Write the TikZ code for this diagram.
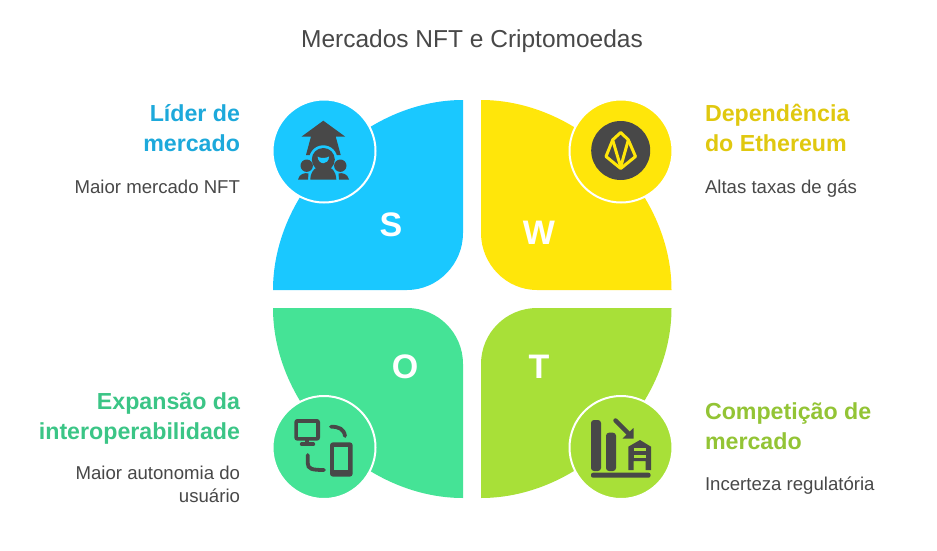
\documentclass[tikz,border=0pt]{standalone}
\usepackage{fontspec}
\setmainfont{Liberation Sans}
\usepackage{tikz}
\usetikzlibrary{positioning}

\definecolor{sblue}{HTML}{1AC8FF}
\definecolor{wyellow}{HTML}{FFE60A}
\definecolor{ogreen}{HTML}{45E396}
\definecolor{tlime}{HTML}{A8E038}
\definecolor{sbluetext}{HTML}{1DA9DB}
\definecolor{wyellowtext}{HTML}{E0C80F}
\definecolor{ogreentext}{HTML}{3BC586}
\definecolor{tlimetext}{HTML}{93C435}
\definecolor{icondark}{HTML}{484848}

\begin{document}
\begin{tikzpicture}[
            x = 1pt, % one unit is one pixel
            y = -1pt,
            inner sep = 0pt,
            outer sep = 0pt
        ]

        \tikzstyle{badge}=[
            circle,
            draw = white,
            line width = 2pt,
            minimum size = 103pt
        ]
        \tikzstyle{letter}=[
            text = white,
            font = \fontsize{34}{34}\selectfont\bfseries
        ]
        \tikzstyle{heading}=[
            font = \fontsize{23.2}{29.5}\selectfont\bfseries
        ]
        \tikzstyle{detail}=[
            text = icondark,
            font = \fontsize{18.6}{23}\selectfont
        ]

        \useasboundingbox (0,0) rectangle (937,551);
        \fill[white] (0,0) rectangle (937,551);

        \node[text = icondark, font = \fontsize{24.5}{30}\selectfont] (title) at (472,41) {Mercados NFT e Criptomoedas};

        % quadrants
        \fill[sblue] (463,100) .. controls (364,100) and (273,191) .. (273,290) -- (407,290)
            .. controls (438,290) and (463,264) .. (463,233) -- cycle;
        \fill[wyellow] (481,100) .. controls (580,100) and (671.5,191) .. (671.5,290) -- (537,290)
            .. controls (506,290) and (481,264) .. (481,233) -- cycle;
        \fill[ogreen] (463,498) .. controls (364,498) and (273,407) .. (273,308) -- (407,308)
            .. controls (438,308) and (463,333) .. (463,364) -- cycle;
        \fill[tlime] (481,498) .. controls (580,498) and (671.5,407) .. (671.5,308) -- (537,308)
            .. controls (506,308) and (481,333) .. (481,364) -- cycle;

        \node[letter] (s) at (391,225) {S};
        \node[letter] (w) at (539,233) {W};
        \node[letter] (o) at (405,367) {O};
        \node[letter] (t) at (539,367) {T};

        \node[badge, fill = sblue] (sbadge) at (324,151) {};
        \node[badge, fill = wyellow] (wbadge) at (621,151) {};
        \node[badge, fill = ogreen] (obadge) at (324,447.5) {};
        \node[badge, fill = tlime] (tbadge) at (621,447.5) {};

        % leader icon
        \fill[icondark] (323.3,120.7) -- (345,136.5) -- (335.7,136.5) -- (340.7,155) -- (306,155) -- (311,136.5) -- (301.7,136.5) -- cycle;
        \fill[sblue] (323.3,159.5) circle (14.2);
        \fill[icondark] (323.3,159.5) circle (11.5);
        \fill[sblue] (317.5,156.5) .. controls (320,158.5) and (326,158.5) .. (329.1,156.5) .. controls (328.5,165.5) and (318.5,165.5) .. (317.5,156.5) -- cycle;
        \fill[icondark] (310.3,179.5) .. controls (310.7,161) and (336,161) .. (336.3,179.5) -- cycle;
        \fill[icondark] (306.7,165.7) circle (6.2);
        \fill[icondark] (340.3,165.7) circle (6.2);
        \fill[icondark] (298,179.5) .. controls (299.5,173.5) and (305,172.5) .. (308.5,173.5) -- (308,179.5) -- cycle;
        \fill[icondark] (349,179.5) .. controls (347.5,173.5) and (342,172.5) .. (338.5,173.5) -- (339,179.5) -- cycle;

        % gem icon
        \fill[icondark] (620.7,150.5) circle (29.5);
        \draw[wyellow, line width = 3pt, line join = round]
            (620.7,132.5) -- (628.3,139.8) -- (635.5,156.5) -- (620.7,168.5) -- (606,156.5) -- (612.7,139.8) -- cycle;
        \draw[wyellow, line width = 3pt, line join = round]
            (612.7,140) -- (620.7,167) -- (628.3,140);

        % devices icon
        \fill[icondark, rounded corners = 3pt] (294.3,419) rectangle (320,440.7);
        \fill[ogreen] (298.3,423.3) rectangle (315.7,436.7);
        \draw[icondark, line width = 3.5pt] (307,440) -- (307,444.3);
        \draw[icondark, line width = 3.8pt, line cap = round] (301.7,444.3) -- (313.3,444.3);
        \draw[icondark, line width = 3.8pt, line cap = round] (331,426.7) .. controls (339,426.7) and (344,429) .. (345,436);
        \draw[icondark, line width = 3.8pt, line cap = round] (307.7,455) -- (307.7,463) .. controls (307.7,469) and (312,470) .. (324,470);
        \fill[icondark, rounded corners = 3pt] (330,442.3) rectangle (352.7,476.7);
        \fill[ogreen] (334.3,446.7) rectangle (348.3,470);

        % market icon
        \fill[icondark, rounded corners = 3pt] (591,420) rectangle (601,471);
        \fill[icondark, rounded corners = 3pt] (606,432.7) rectangle (616,471);
        \fill[icondark, rounded corners = 2pt] (591,472.7) rectangle (650.5,477.7);
        \draw[icondark, line width = 4.5pt, line cap = round] (615.5,420.5) -- (630,435);
        \fill[icondark] (633.5,428) -- (633.5,438.5) -- (622.5,438.5) -- cycle;
        \fill[icondark] (628.3,470) -- (628.3,446.7) -- (640,440) -- (651,446.7) -- (651,470) -- (645.5,470) -- (645.5,461) -- (633.5,461) -- (633.5,470) -- cycle;
        \fill[tlime] (633.5,448) rectangle (645.5,450.7);
        \fill[tlime] (633.5,455.2) rectangle (645.5,457.7);

        % labels
        \node[heading, text = sbluetext, align = right, anchor = east] (shead) at (240,128) {Líder de\\mercado};
        \node[detail, anchor = east] (sdetail) at (240,187) {Maior mercado NFT};
        \node[heading, text = wyellowtext, align = left, anchor = west] (whead) at (705,128) {Dependência\\do Ethereum};
        \node[detail, anchor = west] (wdetail) at (705,189) {Altas taxas de gás};
        \node[heading, text = ogreentext, align = right, anchor = east] (ohead) at (240,418.5) {Expansão da\\interoperabilidade};
        \node[detail, align = right, anchor = east] (odetail) at (240,484.5) {Maior autonomia do\\usuário};
        \node[heading, text = tlimetext, align = left, anchor = west] (thead) at (705,426) {Competição de\\mercado};
        \node[detail, anchor = west] (tdetail) at (705,486) {Incerteza regulatória};

\end{tikzpicture}
\end{document}
